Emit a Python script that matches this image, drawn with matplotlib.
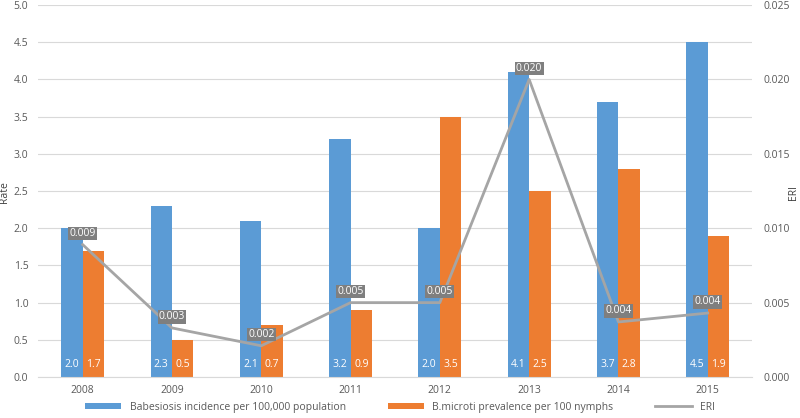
import matplotlib
matplotlib.use("Agg")
import matplotlib.pyplot as plt
import numpy as np

plt.rcParams['font.family'] = ['Open Sans', 'DejaVu Sans']

years = ["2008", "2009", "2010", "2011", "2012", "2013", "2014", "2015"]
incidence = [2.0, 2.3, 2.1, 3.2, 2.0, 4.1, 3.7, 4.5]
prevalence = [1.7, 0.5, 0.7, 0.9, 3.5, 2.5, 2.8, 1.9]
eri = [0.0089, 0.0033, 0.0021, 0.0050, 0.0050, 0.0200, 0.0037, 0.0043]
eri_labels = ["0.009", "0.003", "0.002", "0.005", "0.005", "0.020", "0.004", "0.004"]

blue = "#5B9BD5"
orange = "#ED7D31"
grey = "#A5A5A5"
txt = "#595959"

fig = plt.figure(figsize=(8, 4.18), dpi=100)
ax = fig.add_axes([0.0475, 0.098, 0.893, 0.89])
ax2 = ax.twinx()

x = np.arange(len(years))
w = 0.24
b1 = ax.bar(x - w / 2, incidence, w, color=blue, label="Babesiosis incidence per 100,000 population", zorder=2)
b2 = ax.bar(x + w / 2, prevalence, w, color=orange, label="B.microti prevalence per 100 nymphs", zorder=2)

for i in range(len(years)):
    ax.text(x[i] - w / 2, 0.1, "%.1f" % incidence[i], ha="center", va="bottom", color="white", fontsize=7.5, zorder=3)
    ax.text(x[i] + w / 2, 0.1, "%.1f" % prevalence[i], ha="center", va="bottom", color="white", fontsize=7.5, zorder=3)

ln, = ax2.plot(x, eri, color=grey, lw=2, label="ERI", zorder=4)
for i in range(len(years)):
    ax2.annotate(eri_labels[i], (x[i], eri[i]), xytext=(0, 4), textcoords="offset points",
                 ha="center", va="bottom", color="white", fontsize=7.5,
                 bbox=dict(boxstyle="square,pad=0.12", fc="#7F7F7F", ec="none"), zorder=5)

ax.set_xlim(-0.5, len(years) - 0.5)
ax.set_ylim(0, 5.0)
ax.set_yticks(np.arange(0, 5.01, 0.5))
ax.set_yticklabels(["%.1f" % v for v in np.arange(0, 5.01, 0.5)])
ax2.set_ylim(0, 0.025)
ax2.set_yticks(np.arange(0, 0.0251, 0.005))
ax2.set_yticklabels(["%.3f" % v for v in np.arange(0, 0.0251, 0.005)])
ax.set_xticks(x)
ax.set_xticklabels(years)

ax.yaxis.grid(True, color="#D9D9D9", lw=0.8, zorder=0)
ax.set_axisbelow(True)
for a in (ax, ax2):
    for s in a.spines.values():
        s.set_visible(False)
    a.tick_params(length=0, colors=txt, labelsize=7.5)
ax.spines["bottom"].set_visible(True)
ax.spines["bottom"].set_color("#D9D9D9")
ax.tick_params(axis="y", pad=7)
ax.tick_params(axis="x", pad=6)
ax2.tick_params(axis="y", pad=8)

fig.text(0.006, 0.54, "Rate", rotation=90, ha="center", va="center", color="#404040", fontsize=7.5)
fig.text(0.992, 0.54, "ERI", rotation=90, ha="center", va="center", color="#404040", fontsize=7.5)

fig.legend(handles=[b1, b2, ln], loc="lower center", ncol=3, frameon=False, fontsize=7.5,
           bbox_to_anchor=(0.5, -0.01), handlelength=3.5, handleheight=0.6, columnspacing=4,
           labelcolor=txt)

fig.savefig("out.png", dpi=100)
